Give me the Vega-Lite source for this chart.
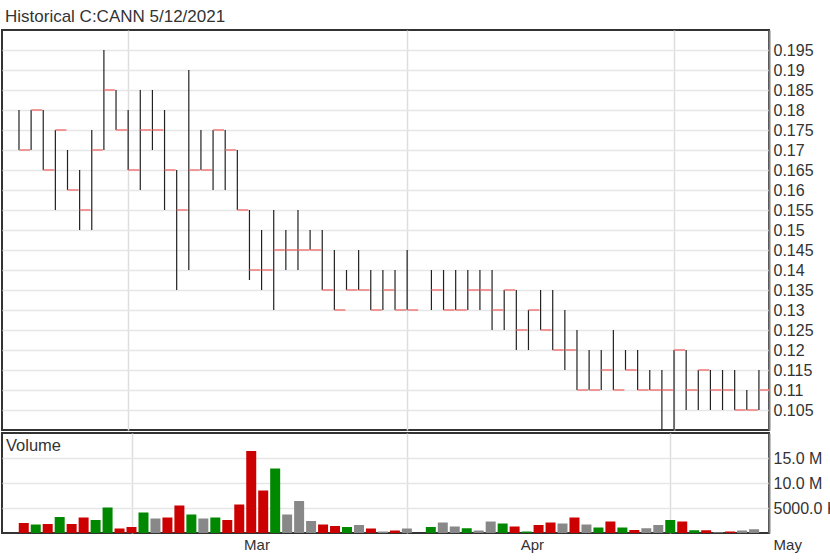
{
  "$schema": "https://vega.github.io/schema/vega-lite/v6.json",
  "padding": {"left": 1, "top": 8, "right": 0, "bottom": 0},
  "background": "white",
  "title": {"text": "Historical C:CANN 5/12/2021", "anchor": "start", "frame": "bounds", "fontSize": 17, "fontWeight": "normal", "color": "#333333", "font": "Liberation Sans", "offset": 3, "dx": 4},
  "spacing": 0,
  "datasets": {
    "ohlc": [
      {"date": "2021-02-16", "i": 0, "high": 0.18, "low": 0.17, "close": 0.17, "volume": 2000000, "dir": "down"},
      {"date": "2021-02-17", "i": 1, "high": 0.18, "low": 0.17, "close": 0.18, "volume": 1700000, "dir": "up"},
      {"date": "2021-02-18", "i": 2, "high": 0.18, "low": 0.165, "close": 0.165, "volume": 1800000, "dir": "down"},
      {"date": "2021-02-19", "i": 3, "high": 0.175, "low": 0.155, "close": 0.175, "volume": 3200000, "dir": "up"},
      {"date": "2021-02-22", "i": 4, "high": 0.17, "low": 0.16, "close": 0.16, "volume": 1800000, "dir": "down"},
      {"date": "2021-02-23", "i": 5, "high": 0.165, "low": 0.15, "close": 0.155, "volume": 3100000, "dir": "down"},
      {"date": "2021-02-24", "i": 6, "high": 0.175, "low": 0.15, "close": 0.17, "volume": 2600000, "dir": "up"},
      {"date": "2021-02-25", "i": 7, "high": 0.195, "low": 0.17, "close": 0.185, "volume": 5100000, "dir": "up"},
      {"date": "2021-02-26", "i": 8, "high": 0.185, "low": 0.175, "close": 0.175, "volume": 900000, "dir": "down"},
      {"date": "2021-03-01", "i": 9, "high": 0.18, "low": 0.165, "close": 0.165, "volume": 1200000, "dir": "down"},
      {"date": "2021-03-02", "i": 10, "high": 0.185, "low": 0.16, "close": 0.175, "volume": 4100000, "dir": "up"},
      {"date": "2021-03-03", "i": 11, "high": 0.185, "low": 0.17, "close": 0.175, "volume": 2900000, "dir": "flat"},
      {"date": "2021-03-04", "i": 12, "high": 0.18, "low": 0.155, "close": 0.165, "volume": 3100000, "dir": "down"},
      {"date": "2021-03-05", "i": 13, "high": 0.165, "low": 0.135, "close": 0.155, "volume": 5500000, "dir": "down"},
      {"date": "2021-03-08", "i": 14, "high": 0.19, "low": 0.14, "close": 0.165, "volume": 3700000, "dir": "up"},
      {"date": "2021-03-09", "i": 15, "high": 0.175, "low": 0.165, "close": 0.165, "volume": 2900000, "dir": "flat"},
      {"date": "2021-03-10", "i": 16, "high": 0.175, "low": 0.16, "close": 0.175, "volume": 3100000, "dir": "up"},
      {"date": "2021-03-11", "i": 17, "high": 0.175, "low": 0.16, "close": 0.17, "volume": 2600000, "dir": "down"},
      {"date": "2021-03-12", "i": 18, "high": 0.17, "low": 0.155, "close": 0.155, "volume": 5700000, "dir": "down"},
      {"date": "2021-03-15", "i": 19, "high": 0.155, "low": 0.1375, "close": 0.14, "volume": 16400000, "dir": "down"},
      {"date": "2021-03-16", "i": 20, "high": 0.15, "low": 0.135, "close": 0.14, "volume": 8500000, "dir": "down"},
      {"date": "2021-03-17", "i": 21, "high": 0.155, "low": 0.13, "close": 0.145, "volume": 12900000, "dir": "up"},
      {"date": "2021-03-18", "i": 22, "high": 0.15, "low": 0.14, "close": 0.145, "volume": 3700000, "dir": "flat"},
      {"date": "2021-03-19", "i": 23, "high": 0.155, "low": 0.14, "close": 0.145, "volume": 6400000, "dir": "flat"},
      {"date": "2021-03-22", "i": 24, "high": 0.15, "low": 0.145, "close": 0.145, "volume": 2400000, "dir": "flat"},
      {"date": "2021-03-23", "i": 25, "high": 0.15, "low": 0.135, "close": 0.135, "volume": 1700000, "dir": "down"},
      {"date": "2021-03-24", "i": 26, "high": 0.145, "low": 0.13, "close": 0.13, "volume": 1400000, "dir": "down"},
      {"date": "2021-03-25", "i": 27, "high": 0.14, "low": 0.135, "close": 0.135, "volume": 1200000, "dir": "up"},
      {"date": "2021-03-26", "i": 28, "high": 0.145, "low": 0.135, "close": 0.135, "volume": 1600000, "dir": "flat"},
      {"date": "2021-03-29", "i": 29, "high": 0.14, "low": 0.13, "close": 0.13, "volume": 900000, "dir": "down"},
      {"date": "2021-03-30", "i": 30, "high": 0.14, "low": 0.13, "close": 0.135, "volume": 300000, "dir": "flat"},
      {"date": "2021-03-31", "i": 31, "high": 0.14, "low": 0.13, "close": 0.13, "volume": 500000, "dir": "down"},
      {"date": "2021-04-01", "i": 32, "high": 0.145, "low": 0.13, "close": 0.13, "volume": 900000, "dir": "flat"},
      {"date": "2021-04-05", "i": 34, "high": 0.14, "low": 0.13, "close": 0.135, "volume": 1200000, "dir": "up"},
      {"date": "2021-04-06", "i": 35, "high": 0.14, "low": 0.13, "close": 0.13, "volume": 2100000, "dir": "flat"},
      {"date": "2021-04-07", "i": 36, "high": 0.14, "low": 0.13, "close": 0.13, "volume": 1300000, "dir": "flat"},
      {"date": "2021-04-08", "i": 37, "high": 0.14, "low": 0.13, "close": 0.135, "volume": 950000, "dir": "up"},
      {"date": "2021-04-09", "i": 38, "high": 0.14, "low": 0.13, "close": 0.135, "volume": 500000, "dir": "flat"},
      {"date": "2021-04-12", "i": 39, "high": 0.14, "low": 0.125, "close": 0.13, "volume": 2300000, "dir": "flat"},
      {"date": "2021-04-13", "i": 40, "high": 0.135, "low": 0.125, "close": 0.135, "volume": 1900000, "dir": "up"},
      {"date": "2021-04-14", "i": 41, "high": 0.135, "low": 0.12, "close": 0.125, "volume": 1300000, "dir": "down"},
      {"date": "2021-04-15", "i": 42, "high": 0.13, "low": 0.12, "close": 0.13, "volume": 300000, "dir": "up"},
      {"date": "2021-04-16", "i": 43, "high": 0.135, "low": 0.125, "close": 0.125, "volume": 1600000, "dir": "down"},
      {"date": "2021-04-19", "i": 44, "high": 0.135, "low": 0.12, "close": 0.12, "volume": 2100000, "dir": "down"},
      {"date": "2021-04-20", "i": 45, "high": 0.13, "low": 0.115, "close": 0.12, "volume": 1900000, "dir": "flat"},
      {"date": "2021-04-21", "i": 46, "high": 0.125, "low": 0.11, "close": 0.11, "volume": 3100000, "dir": "down"},
      {"date": "2021-04-22", "i": 47, "high": 0.12, "low": 0.11, "close": 0.11, "volume": 1700000, "dir": "flat"},
      {"date": "2021-04-23", "i": 48, "high": 0.12, "low": 0.11, "close": 0.115, "volume": 1100000, "dir": "up"},
      {"date": "2021-04-26", "i": 49, "high": 0.125, "low": 0.11, "close": 0.11, "volume": 2300000, "dir": "down"},
      {"date": "2021-04-27", "i": 50, "high": 0.12, "low": 0.115, "close": 0.115, "volume": 1100000, "dir": "up"},
      {"date": "2021-04-28", "i": 51, "high": 0.12, "low": 0.11, "close": 0.11, "volume": 600000, "dir": "down"},
      {"date": "2021-04-29", "i": 52, "high": 0.115, "low": 0.11, "close": 0.11, "volume": 950000, "dir": "flat"},
      {"date": "2021-04-30", "i": 53, "high": 0.115, "low": 0.1, "close": 0.11, "volume": 1600000, "dir": "flat"},
      {"date": "2021-05-03", "i": 54, "high": 0.12, "low": 0.1, "close": 0.12, "volume": 2600000, "dir": "up"},
      {"date": "2021-05-04", "i": 55, "high": 0.12, "low": 0.105, "close": 0.11, "volume": 2300000, "dir": "down"},
      {"date": "2021-05-05", "i": 56, "high": 0.115, "low": 0.105, "close": 0.115, "volume": 550000, "dir": "up"},
      {"date": "2021-05-06", "i": 57, "high": 0.115, "low": 0.105, "close": 0.11, "volume": 550000, "dir": "down"},
      {"date": "2021-05-07", "i": 58, "high": 0.115, "low": 0.105, "close": 0.11, "volume": 150000, "dir": "flat"},
      {"date": "2021-05-10", "i": 59, "high": 0.115, "low": 0.105, "close": 0.105, "volume": 300000, "dir": "down"},
      {"date": "2021-05-11", "i": 60, "high": 0.11, "low": 0.105, "close": 0.105, "volume": 500000, "dir": "flat"},
      {"date": "2021-05-12", "i": 61, "high": 0.115, "low": 0.105, "close": 0.11, "volume": 750000, "dir": "flat"}
    ]
  },
  "vconcat": [
    {
      "width": 767,
      "height": 400,
      "data": {"name": "ohlc"},
      "view": {"stroke": "#333333", "strokeWidth": 2},
      "encoding": {
        "x": {"field": "i", "type": "quantitative", "scale": {"domain": [-1.4, 61.83], "nice": false, "zero": false},
          "axis": {"values": [9, 32, 54], "labels": false, "ticks": false, "domain": false, "grid": true, "gridColor": "#dddddd", "gridWidth": 1.5, "title": null}}
      },
      "layer": [
        {
          "mark": {"type": "rule", "color": "#222222", "strokeWidth": 1.2},
          "encoding": {
            "y": {"field": "low", "type": "quantitative", "scale": {"domain": [0.1, 0.2], "nice": false, "zero": false},
              "axis": {"orient": "right", "title": null, "values": [0.105, 0.11, 0.115, 0.12, 0.125, 0.13, 0.135, 0.14, 0.145, 0.15, 0.155, 0.16, 0.165, 0.17, 0.175, 0.18, 0.185, 0.19, 0.195],
                "labelExpr": "'' + datum.value", "labelOverlap": false, "ticks": false, "domain": true, "domainColor": "#808080", "domainWidth": 2, "grid": true, "gridColor": "#e6e6e6", "gridWidth": 1.5, "labelFontSize": 16, "labelColor": "#333333", "labelPadding": 4}},
            "y2": {"field": "high"}
          }
        },
        {
          "mark": {"type": "tick", "orient": "horizontal", "color": "#f07070", "size": 11, "thickness": 2, "xOffset": 5.5},
          "encoding": {"y": {"field": "close", "type": "quantitative",
              "axis": {"orient": "right", "title": null, "values": [0.105, 0.11, 0.115, 0.12, 0.125, 0.13, 0.135, 0.14, 0.145, 0.15, 0.155, 0.16, 0.165, 0.17, 0.175, 0.18, 0.185, 0.19, 0.195],
                "labelExpr": "'' + datum.value", "labelOverlap": false, "ticks": false, "domain": true, "domainColor": "#808080", "domainWidth": 2, "grid": true, "gridColor": "#e6e6e6", "gridWidth": 1.5, "labelFontSize": 16, "labelColor": "#333333", "labelPadding": 4}}}
        }
      ]
    },
    {
      "width": 767,
      "height": 100,
      "data": {"name": "ohlc"},
      "view": {"stroke": "#333333", "strokeWidth": 2},
      "title": {"text": "Volume", "anchor": "start", "orient": "top", "offset": -21, "fontSize": 16.5, "fontWeight": "normal", "color": "#333333", "font": "Liberation Sans", "dx": 4},
      "mark": {"type": "bar", "size": 10},
      "encoding": {
        "x": {"field": "i", "type": "quantitative", "scale": {"domain": [-1.4, 61.83], "nice": false, "zero": false},
          "axis": {"values": [9, 32, 54], "labelExpr": "datum.value == 9 ? 'Mar' : datum.value == 32 ? 'Apr' : 'May'", "labelOffset": {"condition": {"test": "datum.value == 54", "value": 117}, "value": 125}, "labelFlush": false, "labelOverlap": false, "labelBound": false, "ticks": false, "domain": false, "grid": true, "gridColor": "#dddddd", "gridWidth": 1.5, "title": null, "labelFontSize": 15, "labelColor": "#333333", "labelPadding": 4}},
        "y": {"field": "volume", "type": "quantitative", "scale": {"domain": [0, 20000000], "nice": false},
          "axis": {"orient": "right", "title": null, "values": [5000000, 10000000, 15000000], "labelExpr": "datum.value >= 10000000 ? format(datum.value / 1000000, '.1f') + ' M' : format(datum.value / 1000, '.1f') + ' K'",
            "labelOverlap": false, "ticks": false, "domain": true, "domainColor": "#808080", "domainWidth": 2, "grid": true, "gridColor": "#e6e6e6", "gridWidth": 1.5, "labelFontSize": 16, "labelColor": "#333333", "labelPadding": 4}},
        "color": {"field": "dir", "type": "nominal", "scale": {"domain": ["down", "up", "flat"], "range": ["#cc0000", "#008800", "#888888"]}, "legend": null}
      }
    }
  ],
  "config": {
    "font": "Liberation Sans",
    "axis": {"labelFont": "Liberation Sans"}
  }
}
